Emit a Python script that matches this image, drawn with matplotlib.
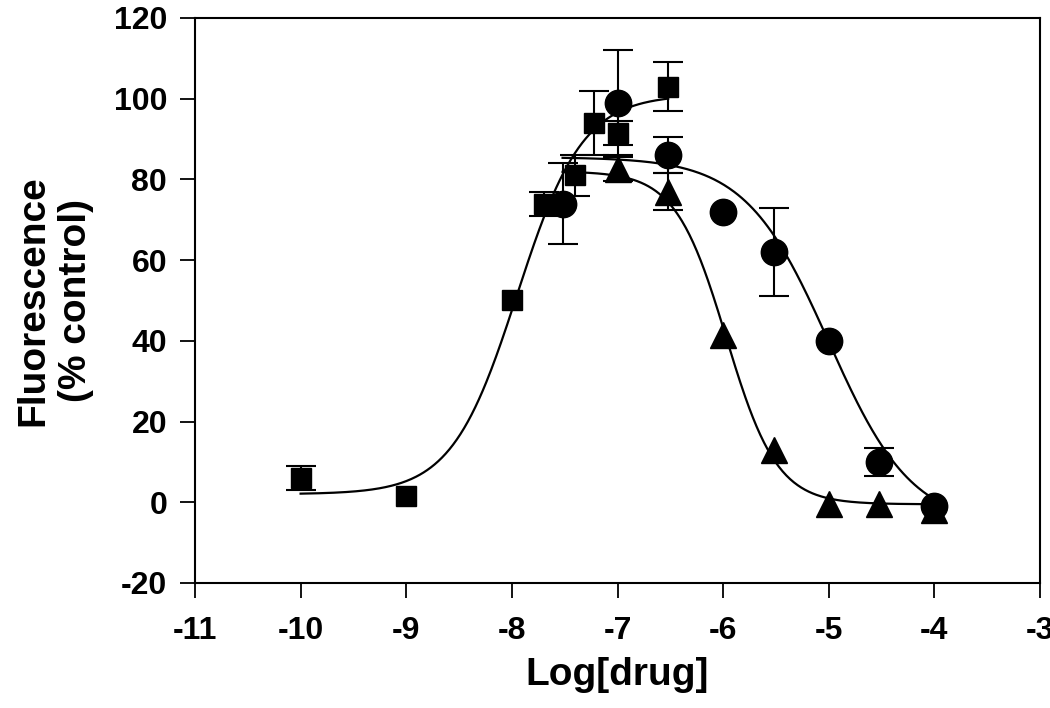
import matplotlib

matplotlib.use("Agg")

import matplotlib.pyplot as plt
import numpy as np

# squares: rising response
sq_x = [-10, -9, -8, -7.7, -7.4, -7.22, -7, -6.52]
sq_y = [6, 1.5, 50, 74, 81, 94, 91.5, 103]
sq_err = [3, 0, 0, 3, 5, 8, 3, 6]

# circles
ci_x = [-7.52, -7, -6.52, -6, -5.52, -5, -4.52, -4]
ci_y = [74, 99, 86, 72, 62, 40, 10, -1]
ci_err = [10, 13, 4.5, 0, 11, 0, 3.5, 0]

# triangles
tr_x = [-7, -6.52, -6, -5.52, -5, -4.52, -4]
tr_y = [82.5, 77, 41.5, 13, -0.5, -0.5, -2]
tr_err = [3, 4.7, 0, 0, 0, 0, 0]

# fitted logistic curves: bottom, top, log EC50/IC50, hill, x range
sq_fit = [2, 101, -7.95, 1.4, -10, -6.52]
ci_fit = [-6, 85.5, -5.0, 1.1, -7.52, -4]
tr_fit = [-0.5, 82, -5.97, 1.8, -7.52, -4]

x_ticks = [-11, -10, -9, -8, -7, -6, -5, -4, -3]
y_ticks = [-20, 0, 20, 40, 60, 80, 100, 120]

plt.rcParams["font.family"] = ["Liberation Sans", "DejaVu Sans"]
plt.rcParams["font.weight"] = "bold"


def rising(x, p):
    bottom, top, ec50, hill = p[:4]
    return bottom + (top - bottom) / (1 + 10 ** ((ec50 - x) * hill))


def falling(x, p):
    bottom, top, ic50, hill = p[:4]
    return bottom + (top - bottom) / (1 + 10 ** ((x - ic50) * hill))


def draw_series(ax, xs, ys, errs, marker, size):
    xs, ys, errs = np.asarray(xs), np.asarray(ys), np.asarray(errs)
    has_err = errs > 0
    ax.errorbar(xs[has_err], ys[has_err], yerr=errs[has_err], fmt="none",
                ecolor="black", elinewidth=1.5, capsize=11, capthick=1.5, zorder=3)
    ax.plot(xs, ys, marker=marker, markersize=size, color="black",
            linestyle="none", zorder=4)


fig = plt.figure(figsize=(10.5, 7.08), dpi=100)
ax = fig.add_axes([0.1857, 0.1766, 0.8048, 0.798])

for p, fn in ((sq_fit, rising), (ci_fit, falling), (tr_fit, falling)):
    xs = np.linspace(p[4], p[5], 300)
    ax.plot(xs, fn(xs, p), color="black", linewidth=1.6, zorder=2)

draw_series(ax, tr_x, tr_y, tr_err, "^", 19)
draw_series(ax, ci_x, ci_y, ci_err, "o", 19)
draw_series(ax, sq_x, sq_y, sq_err, "s", 15)

ax.set_xlim(-11, -3)
ax.set_ylim(-20, 120)
ax.set_xticks(x_ticks)
ax.set_yticks(y_ticks)
ax.set_xticklabels([str(t) for t in x_ticks])
ax.set_yticklabels([str(t) for t in y_ticks])
ax.tick_params(axis="both", direction="out", length=11, width=1.3, labelsize=23)
ax.tick_params(axis="x", pad=13)
ax.tick_params(axis="y", pad=9)
for spine in ax.spines.values():
    spine.set_linewidth(1.5)

ax.set_xlabel("Log[drug]", fontsize=28, fontweight="bold", labelpad=8)
ax.set_ylabel("Fluorescence\n(% control)", fontsize=28, fontweight="bold",
              linespacing=1.25, labelpad=14)

fig.savefig("out.png", dpi=100)
